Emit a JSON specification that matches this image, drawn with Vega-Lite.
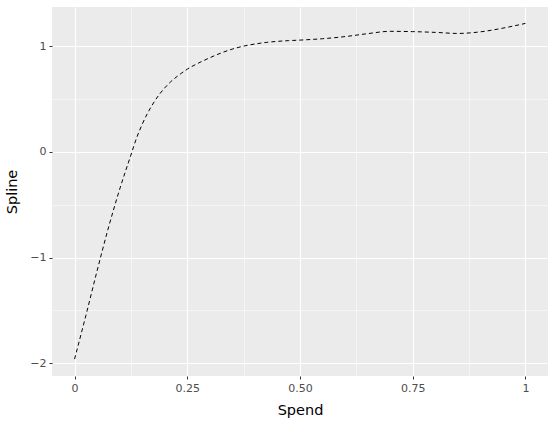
{
  "$schema": "https://vega.github.io/schema/vega-lite/v6.json",
  "width": 496,
  "height": 369,
  "autosize": {"type": "none"},
  "padding": {"left": 52, "top": 7, "right": 4, "bottom": 48},
  "background": "white",
  "config": {
    "view": {"fill": "#EBEBEB", "stroke": null},
    "axis": {
      "domain": false,
      "labelFont": "DejaVu Sans",
      "labelFontSize": 11,
      "labelColor": "#4D4D4D",
      "titleFont": "DejaVu Sans",
      "titleFontSize": 14.5,
      "titleFontWeight": "normal",
      "titleColor": "black",
      "tickColor": "#333333",
      "tickSize": 3,
      "tickWidth": 1,
      "gridColor": "white"
    }
  },
  "data": {
    "values": [
      {"Spend": 0.0, "Spline": -1.96},
      {"Spend": 0.025, "Spline": -1.55},
      {"Spend": 0.05, "Spline": -1.125},
      {"Spend": 0.075, "Spline": -0.72},
      {"Spend": 0.1, "Spline": -0.355},
      {"Spend": 0.125, "Spline": -0.03},
      {"Spend": 0.1375, "Spline": 0.13},
      {"Spend": 0.15, "Spline": 0.26},
      {"Spend": 0.1625, "Spline": 0.37},
      {"Spend": 0.175, "Spline": 0.462},
      {"Spend": 0.1875, "Spline": 0.54},
      {"Spend": 0.2, "Spline": 0.605},
      {"Spend": 0.2125, "Spline": 0.66},
      {"Spend": 0.225, "Spline": 0.705},
      {"Spend": 0.2375, "Spline": 0.745},
      {"Spend": 0.25, "Spline": 0.782},
      {"Spend": 0.275, "Spline": 0.84},
      {"Spend": 0.3, "Spline": 0.89},
      {"Spend": 0.325, "Spline": 0.935},
      {"Spend": 0.35, "Spline": 0.972},
      {"Spend": 0.375, "Spline": 1.0},
      {"Spend": 0.4, "Spline": 1.02},
      {"Spend": 0.425, "Spline": 1.035},
      {"Spend": 0.45, "Spline": 1.045},
      {"Spend": 0.475, "Spline": 1.052},
      {"Spend": 0.5, "Spline": 1.057},
      {"Spend": 0.55, "Spline": 1.07},
      {"Spend": 0.6, "Spline": 1.09},
      {"Spend": 0.65, "Spline": 1.118},
      {"Spend": 0.7, "Spline": 1.14},
      {"Spend": 0.75, "Spline": 1.137},
      {"Spend": 0.8, "Spline": 1.13},
      {"Spend": 0.85, "Spline": 1.12},
      {"Spend": 0.9, "Spline": 1.135},
      {"Spend": 0.95, "Spline": 1.17},
      {"Spend": 1.0, "Spline": 1.215}
    ]
  },
  "mark": {"type": "line", "color": "black", "strokeWidth": 1, "strokeDash": [4, 3], "interpolate": "monotone"},
  "encoding": {
    "x": {
      "field": "Spend",
      "type": "quantitative",
      "title": "Spend",
      "scale": {"domain": [-0.05, 1.05], "nice": false, "zero": false},
      "axis": {
        "values": [0, 0.125, 0.25, 0.375, 0.5, 0.625, 0.75, 0.875, 1],
        "labelExpr": "datum.value == 0 ? '0' : datum.value == 0.25 ? '0.25' : datum.value == 0.5 ? '0.50' : datum.value == 0.75 ? '0.75' : datum.value == 1 ? '1' : ''",
        "gridWidth": {"condition": {"test": "indexof([0.125,0.375,0.625,0.875], datum.value) >= 0", "value": 0.5}, "value": 1.1},
        "tickOpacity": {"condition": {"test": "indexof([0.125,0.375,0.625,0.875], datum.value) >= 0", "value": 0}, "value": 1},
        "labelPadding": 3,
        "titlePadding": 10
      }
    },
    "y": {
      "field": "Spline",
      "type": "quantitative",
      "title": "Spline",
      "scale": {"domain": [-2.12, 1.37], "nice": false, "zero": false},
      "axis": {
        "values": [-2, -1.5, -1, -0.5, 0, 0.5, 1],
        "labelExpr": "datum.value == 1 ? '1' : datum.value == 0 ? '0' : datum.value == -1 ? '−1' : datum.value == -2 ? '−2' : ''",
        "gridWidth": {"condition": {"test": "indexof([-1.5,-0.5,0.5], datum.value) >= 0", "value": 0.5}, "value": 1.1},
        "tickOpacity": {"condition": {"test": "indexof([-1.5,-0.5,0.5], datum.value) >= 0", "value": 0}, "value": 1},
        "labelPadding": 3,
        "titlePadding": 10
      }
    }
  }
}
